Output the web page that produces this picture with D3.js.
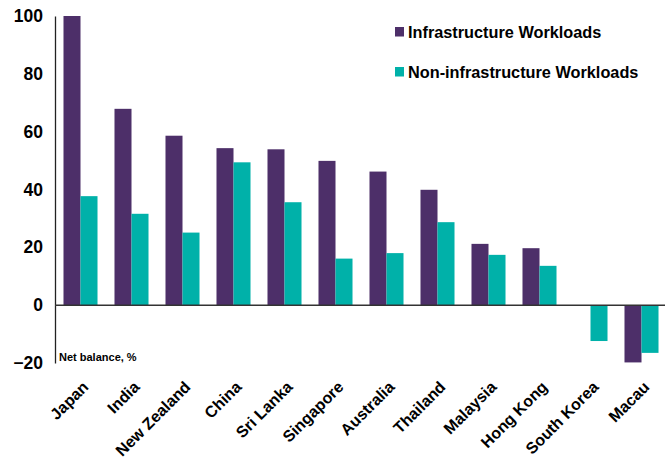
<!DOCTYPE html>
<meta charset="utf-8">
<head>
<style>
body { margin: 0; background: #fff; }
text { font-family: "Liberation Sans", Arial, sans-serif; font-weight: bold; }
</style>
</head>
<script src="https://d3js.org/d3.v7.min.js"></script>
<div id="chart"></div>
<script>
// data
var countries = ["Japan", "India", "New Zealand", "China", "Sri Lanka", "Singapore",
  "Australia", "Thailand", "Malaysia", "Hong Kong", "South Korea", "Macau"];
var infra = [100, 67.9, 58.6, 54.3, 53.9, 49.9, 46.2, 39.9, 21.2, 19.7, 0, -19.8];
var nonInfra = [37.7, 31.6, 25.1, 49.4, 35.6, 16.1, 18.0, 28.7, 17.4, 13.6, -12.4, -16.5];
var seriesNames = ["Infrastructure Workloads", "Non-infrastructure Workloads"];
var colors = ["#4d2f69", "#00b1a9"];
var yTicks = [-20, 0, 20, 40, 60, 80, 100];

var W = 665, H = 463;
var margin = {left: 55, right: 667, top: 16, bottom: 363};

var svg = d3.select("#chart").append("svg")
  .attr("width", W).attr("height", H);

var x = d3.scaleBand().domain(countries).range([margin.left, margin.right])
  .paddingInner(0.333).paddingOuter(0.1665);
var xs = d3.scaleBand().domain([0, 1]).range([0, x.bandwidth()]);
var y = d3.scaleLinear().domain([-20, 100]).range([margin.bottom, margin.top]);

// y axis labels
var yAxis = svg.append("g")
  .attr("transform", "translate(" + margin.left + ",0)")
  .call(d3.axisLeft(y).tickValues(yTicks).tickSize(0).tickPadding(12));
yAxis.select(".domain").attr("stroke", "#222").attr("stroke-width", 1.3);
yAxis.selectAll("text").attr("font-size", "17.5px").attr("fill", "#000")
  .attr("font-family", "Liberation Sans, Arial, sans-serif").attr("font-weight", "bold");

// bars
var rows = countries.map(function(c, i) { return {c: c, v: [infra[i], nonInfra[i]]}; });
var g = svg.selectAll("g.grp").data(rows).enter().append("g")
  .attr("class", "grp")
  .attr("transform", function(d) { return "translate(" + x(d.c) + ",0)"; });
g.selectAll("rect").data(function(d) { return d.v.map(function(v, k) { return {k: k, v: v}; }); })
  .enter().append("rect")
  .filter(function(d) { return d.v !== 0; })
  .attr("x", function(d) { return xs(d.k); })
  .attr("width", xs.bandwidth())
  .attr("y", function(d) { return y(Math.max(0, d.v)); })
  .attr("height", function(d) { return Math.abs(y(d.v) - y(0)); })
  .attr("fill", function(d) { return colors[d.k]; });

// zero line
svg.append("line")
  .attr("x1", margin.left).attr("x2", W)
  .attr("y1", y(0)).attr("y2", y(0))
  .attr("stroke", "#333").attr("stroke-width", 1.5);

// category labels
svg.append("g").selectAll("text").data(countries).enter().append("text")
  .attr("transform", function(d) {
    return "translate(" + (x(d) + x.bandwidth() / 2 + 9) + "," + 388 + ") rotate(-45)";
  })
  .attr("text-anchor", "end")
  .attr("font-size", "16px")
  .text(function(d) { return d; });

// unit note
svg.append("text")
  .attr("x", 59).attr("y", 361)
  .attr("font-size", "11px")
  .text("Net balance, %");

// legend
var leg = svg.append("g").selectAll("g").data(seriesNames).enter().append("g")
  .attr("transform", function(d, i) { return "translate(395," + (27 + i * 40) + ")"; });
leg.append("rect").attr("width", 9).attr("height", 9.5)
  .attr("fill", function(d, i) { return colors[i]; });
leg.append("text").attr("x", 13).attr("y", 10.5)
  .attr("font-size", "16.3px")
  .text(function(d) { return d; });
</script>
